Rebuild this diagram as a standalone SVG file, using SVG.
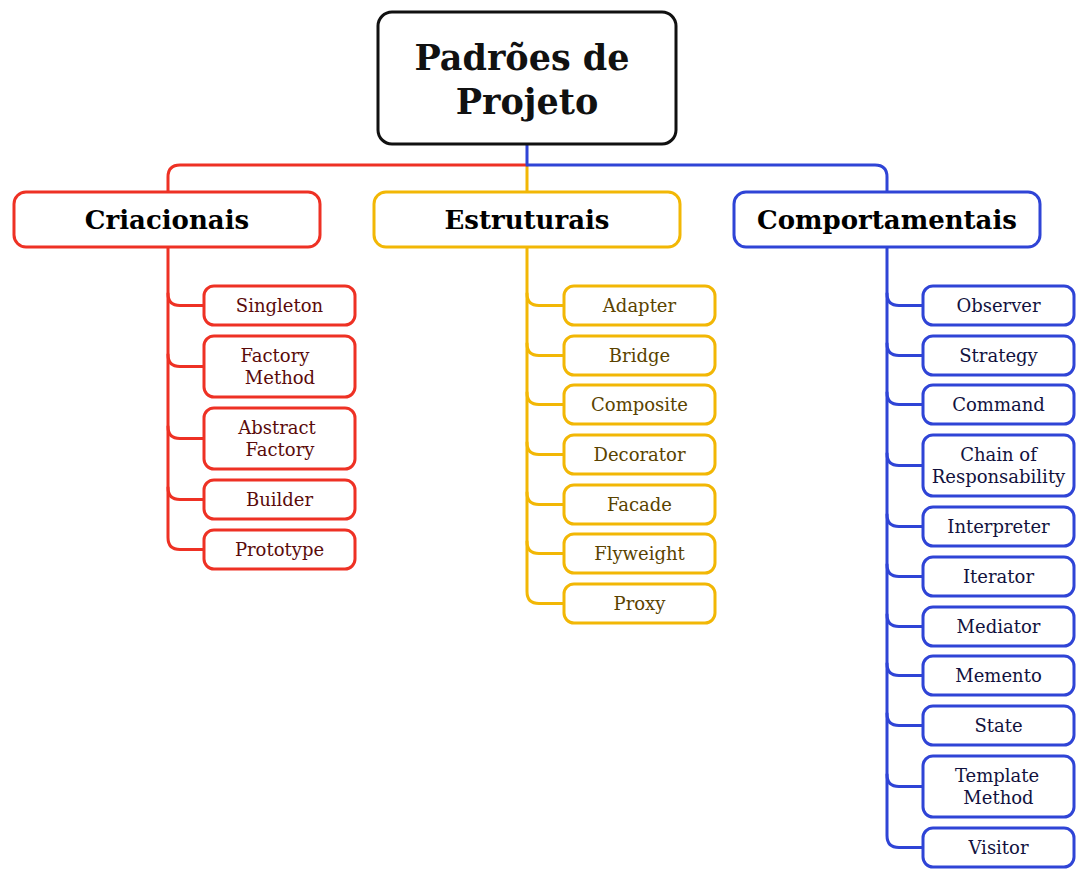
<svg xmlns="http://www.w3.org/2000/svg" width="1090" height="878" viewBox="0 0 1090 878">
<style>
.bg{fill:#ffffff}
.root{fill:#fff;stroke:#111;stroke-width:3}
.cat{fill:#fff;stroke-width:3}
.leaf{fill:#fff;stroke-width:3}
.r{stroke:#ee3124}
.y{stroke:#f2b705}
.b{stroke:#2f44d6}
.ln{fill:none;stroke-width:3;stroke-linecap:round;stroke-linejoin:round}
.t0{font-family:"DejaVu Serif","Noto Serif",serif;font-weight:bold;font-size:35px;fill:#111;text-anchor:middle}
.t1{font-family:"DejaVu Serif","Noto Serif",serif;font-weight:bold;font-size:26px;fill:#000;text-anchor:middle}
.t2{font-family:"DejaVu Serif","Noto Serif",serif;font-size:18px;text-anchor:middle}
.tr{fill:#5a0b0b}
.ty{fill:#5a4300}
.tb{fill:#12123e}
</style>
<rect class="bg" x="0" y="0" width="1090" height="878"/>
<g id="connectors">
<path class="ln y" d="M527,165 V192"/>
<path class="ln r" d="M527,165 H180 Q168,165 168,177 V192"/>
<path class="ln b" d="M527,144 V165 H875 Q887,165 887,177 V192"/>
<!-- red -->
<path class="ln r" d="M168,247 V537.5 Q168,549.5 180,549.5 H204"/>
<path class="ln r" d="M168,293.5 Q168,305.5 180,305.5 H204"/>
<path class="ln r" d="M168,354.5 Q168,366.5 180,366.5 H204"/>
<path class="ln r" d="M168,426.5 Q168,438.5 180,438.5 H204"/>
<path class="ln r" d="M168,487.5 Q168,499.5 180,499.5 H204"/>
<!-- yellow -->
<path class="ln y" d="M527,247 V591.5 Q527,603.5 539,603.5 H564"/>
<path class="ln y" d="M527,293.5 Q527,305.5 539,305.5 H564"/>
<path class="ln y" d="M527,343.5 Q527,355.5 539,355.5 H564"/>
<path class="ln y" d="M527,392.5 Q527,404.5 539,404.5 H564"/>
<path class="ln y" d="M527,442.5 Q527,454.5 539,454.5 H564"/>
<path class="ln y" d="M527,492.5 Q527,504.5 539,504.5 H564"/>
<path class="ln y" d="M527,541.5 Q527,553.5 539,553.5 H564"/>
<!-- blue -->
<path class="ln b" d="M887,247 V835.5 Q887,847.5 899,847.5 H923"/>
<path class="ln b" d="M887,293.5 Q887,305.5 899,305.5 H923"/>
<path class="ln b" d="M887,343.5 Q887,355.5 899,355.5 H923"/>
<path class="ln b" d="M887,392.5 Q887,404.5 899,404.5 H923"/>
<path class="ln b" d="M887,453.5 Q887,465.5 899,465.5 H923"/>
<path class="ln b" d="M887,514.5 Q887,526.5 899,526.5 H923"/>
<path class="ln b" d="M887,564.5 Q887,576.5 899,576.5 H923"/>
<path class="ln b" d="M887,614.5 Q887,626.5 899,626.5 H923"/>
<path class="ln b" d="M887,663.5 Q887,675.5 899,675.5 H923"/>
<path class="ln b" d="M887,713.5 Q887,725.5 899,725.5 H923"/>
<path class="ln b" d="M887,774.5 Q887,786.5 899,786.5 H923"/>
</g>
<g id="root">
<rect class="root" x="378" y="12" width="298" height="132" rx="14"/>
<text class="t0" x="522" y="70">Padrões de</text>
<text class="t0" x="527" y="114">Projeto</text>
</g>
<g id="criacionais">
<rect class="cat r" x="14" y="192" width="306" height="55" rx="12"/>
<text class="t1" x="167" y="229">Criacionais</text>
</g>
<g id="estruturais">
<rect class="cat y" x="374" y="192" width="306" height="55" rx="12"/>
<text class="t1" x="527" y="229">Estruturais</text>
</g>
<g id="comportamentais">
<rect class="cat b" x="734" y="192" width="306" height="55" rx="12"/>
<text class="t1" x="887" y="229">Comportamentais</text>
</g>
<!-- red leaves -->
<g id="singleton"><rect class="leaf r" x="204" y="286" width="151" height="39" rx="10"/><text class="t2 tr" x="279.5" y="311.5">Singleton</text></g>
<g id="factory-method"><rect class="leaf r" x="204" y="336" width="151" height="61" rx="10"/><text class="t2 tr" x="275" y="362">Factory</text><text class="t2 tr" x="280" y="384">Method</text></g>
<g id="abstract-factory"><rect class="leaf r" x="204" y="408" width="151" height="61" rx="10"/><text class="t2 tr" x="277" y="434">Abstract</text><text class="t2 tr" x="280" y="456">Factory</text></g>
<g id="builder"><rect class="leaf r" x="204" y="480" width="151" height="39" rx="10"/><text class="t2 tr" x="279.5" y="505.5">Builder</text></g>
<g id="prototype"><rect class="leaf r" x="204" y="530" width="151" height="39" rx="10"/><text class="t2 tr" x="279.5" y="555.5">Prototype</text></g>
<!-- yellow leaves -->
<g id="adapter"><rect class="leaf y" x="564" y="286" width="151" height="39" rx="10"/><text class="t2 ty" x="639.5" y="311.5">Adapter</text></g>
<g id="bridge"><rect class="leaf y" x="564" y="336" width="151" height="39" rx="10"/><text class="t2 ty" x="639.5" y="361.5">Bridge</text></g>
<g id="composite"><rect class="leaf y" x="564" y="385" width="151" height="39" rx="10"/><text class="t2 ty" x="639.5" y="410.5">Composite</text></g>
<g id="decorator"><rect class="leaf y" x="564" y="435" width="151" height="39" rx="10"/><text class="t2 ty" x="639.5" y="460.5">Decorator</text></g>
<g id="facade"><rect class="leaf y" x="564" y="485" width="151" height="39" rx="10"/><text class="t2 ty" x="639.5" y="510.5">Facade</text></g>
<g id="flyweight"><rect class="leaf y" x="564" y="534" width="151" height="39" rx="10"/><text class="t2 ty" x="639.5" y="559.5">Flyweight</text></g>
<g id="proxy"><rect class="leaf y" x="564" y="584" width="151" height="39" rx="10"/><text class="t2 ty" x="639.5" y="609.5">Proxy</text></g>
<!-- blue leaves -->
<g id="observer"><rect class="leaf b" x="923" y="286" width="151" height="39" rx="10"/><text class="t2 tb" x="998.5" y="311.5">Observer</text></g>
<g id="strategy"><rect class="leaf b" x="923" y="336" width="151" height="39" rx="10"/><text class="t2 tb" x="998.5" y="361.5">Strategy</text></g>
<g id="command"><rect class="leaf b" x="923" y="385" width="151" height="39" rx="10"/><text class="t2 tb" x="998.5" y="410.5">Command</text></g>
<g id="chain"><rect class="leaf b" x="923" y="435" width="151" height="61" rx="10"/><text class="t2 tb" x="998.5" y="461">Chain of</text><text class="t2 tb" x="998.5" y="483">Responsability</text></g>
<g id="interpreter"><rect class="leaf b" x="923" y="507" width="151" height="39" rx="10"/><text class="t2 tb" x="998.5" y="532.5">Interpreter</text></g>
<g id="iterator"><rect class="leaf b" x="923" y="557" width="151" height="39" rx="10"/><text class="t2 tb" x="998.5" y="582.5">Iterator</text></g>
<g id="mediator"><rect class="leaf b" x="923" y="607" width="151" height="39" rx="10"/><text class="t2 tb" x="998.5" y="632.5">Mediator</text></g>
<g id="memento"><rect class="leaf b" x="923" y="656" width="151" height="39" rx="10"/><text class="t2 tb" x="998.5" y="681.5">Memento</text></g>
<g id="state"><rect class="leaf b" x="923" y="706" width="151" height="39" rx="10"/><text class="t2 tb" x="998.5" y="731.5">State</text></g>
<g id="template-method"><rect class="leaf b" x="923" y="756" width="151" height="61" rx="10"/><text class="t2 tb" x="997" y="782">Template</text><text class="t2 tb" x="998.5" y="804">Method</text></g>
<g id="visitor"><rect class="leaf b" x="923" y="828" width="151" height="39" rx="10"/><text class="t2 tb" x="998.5" y="853.5">Visitor</text></g>
</svg>
